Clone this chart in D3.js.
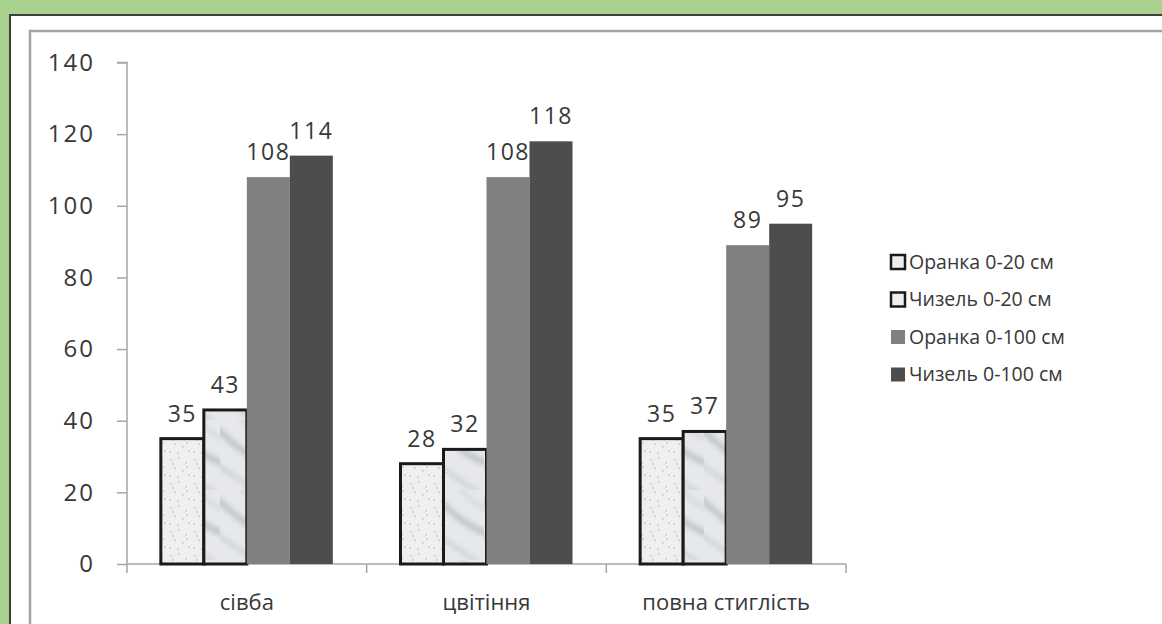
<!DOCTYPE html>
<html>
<head>
<meta charset="utf-8">
<script src="https://cdn.jsdelivr.net/npm/d3@7"></script>
<style>
  body { margin: 0; background: #a9d18e; }
  svg { display: block; }
  text { font-family: "Open Sans", sans-serif; fill: #383838; }
</style>
</head>
<body>
<div id="chart"></div>
<script>
// chart data
const stages = ["сівба", "цвітіння", "повна стиглість"];
const seriesNames = ["Оранка 0-20 см", "Чизель 0-20 см", "Оранка 0-100 см", "Чизель 0-100 см"];
const orankaTop = [35, 28, 35];
const chyzelTop = [43, 32, 37];
const orankaDeep = [108, 108, 89];
const chyzelDeep = [114, 118, 95];
const yTicks = [0, 20, 40, 60, 80, 100, 120, 140];

const seriesValues = [orankaTop, chyzelTop, orankaDeep, chyzelDeep];

const W = 1162, H = 624;
const margin = {t: 62.5, l: 127, plotR: 846, b: 564};

const svg = d3.select("#chart").append("svg")
    .attr("width", W).attr("height", H);

// patterns for the textured bars
const defs = svg.append("defs");
const speck = defs.append("pattern").attr("id", "speck")
    .attr("patternUnits", "userSpaceOnUse").attr("width", 24).attr("height", 24);
speck.append("rect").attr("width", 24).attr("height", 24).attr("fill", "#efefef");
[[3,4],[11,2],[18,7],[7,12],[15,15],[21,19],[2,20],[10,21],[19,11],[5,8]].forEach(p => {
    speck.append("circle").attr("cx", p[0]).attr("cy", p[1]).attr("r", 0.9).attr("fill", "#c8c8c8");
});
const blur = defs.append("filter").attr("id", "soft");
blur.append("feGaussianBlur").attr("stdDeviation", 2.5);
const marble = defs.append("pattern").attr("id", "marble")
    .attr("patternUnits", "userSpaceOnUse").attr("width", 44).attr("height", 70);
marble.append("rect").attr("width", 44).attr("height", 70).attr("fill", "#e6e8eb");
const mg = marble.append("g").attr("filter", "url(#soft)").attr("fill", "none");
mg.append("path").attr("d", "M-4,8 C10,20 22,34 48,44").attr("stroke", "#c0c4ca").attr("stroke-width", 6);
mg.append("path").attr("d", "M-4,44 C8,52 20,60 40,74").attr("stroke", "#cdd0d5").attr("stroke-width", 4);
mg.append("path").attr("d", "M20,-4 C26,6 34,14 48,20").attr("stroke", "#d0d3d8").attr("stroke-width", 3);

const fills = ["url(#speck)", "url(#marble)", "#808080", "#4d4d4d"];
const strokes = ["#1a1a1a", "#1a1a1a", "none", "none"];

// outer white panel with dark edge
svg.append("rect").attr("x", 10).attr("y", 15).attr("width", W).attr("height", H)
    .attr("fill", "#fff").attr("stroke", "#3f3f3f").attr("stroke-width", 2);
// inner gray frame
svg.append("rect").attr("x", 30).attr("y", 31).attr("width", W).attr("height", H)
    .attr("fill", "none").attr("stroke", "#a3a3a3").attr("stroke-width", 2.5);

// scales
const x = d3.scaleBand().domain(stages).range([margin.l, margin.plotR]);
const y = d3.scaleLinear().domain([0, 140]).range([margin.b, margin.t]);
const barW = 43;
const xs = d3.scaleBand().domain(d3.range(4)).range([0, barW * 4]);

// y axis
const yAxis = svg.append("g").attr("transform", `translate(${margin.l},0)`)
    .call(d3.axisLeft(y).tickValues(yTicks).tickSize(10).tickPadding(22));
yAxis.select(".domain").attr("stroke", "#a6a6a6").attr("stroke-width", 1.5).attr("d", `M-10,${y(140)}H0V${y(0)}`);
yAxis.selectAll(".tick line").attr("stroke", "#a6a6a6").attr("stroke-width", 1.5);
yAxis.selectAll(".tick text").attr("font-size", 24).attr("letter-spacing", 2)
    .attr("fill", "#383838").attr("font-family", "Open Sans");

// x axis
const xAxis = svg.append("g").attr("transform", `translate(0,${margin.b})`)
    .call(d3.axisBottom(x).tickSize(0).tickPadding(30));
xAxis.select(".domain").attr("stroke", "#a6a6a6").attr("stroke-width", 1.5)
    .attr("d", `M${margin.l},0H${margin.plotR}`);
xAxis.selectAll(".tick text").attr("font-size", 22).attr("fill", "#383838")
    .attr("font-family", "'Open Sans', sans-serif");
// tick marks at band edges
xAxis.selectAll(".edge").data(stages.concat(["end"])).enter().append("line")
    .attr("x1", (d, i) => i < stages.length ? x(d) : margin.plotR)
    .attr("x2", (d, i) => i < stages.length ? x(d) : margin.plotR)
    .attr("y1", 0).attr("y2", 9)
    .attr("stroke", "#a6a6a6").attr("stroke-width", 1.5);

// bars
const groupOffset = (x.bandwidth() - barW * 4) / 2;
seriesValues.forEach((vals, si) => {
    const g = svg.append("g");
    g.selectAll("rect").data(vals).enter().append("rect")
        .attr("x", (d, i) => x(stages[i]) + groupOffset + xs(si))
        .attr("y", d => y(d))
        .attr("width", barW)
        .attr("height", d => y(0) - y(d))
        .attr("fill", fills[si])
        .attr("stroke", strokes[si])
        .attr("stroke-width", 3);
    g.selectAll("text").data(vals).enter().append("text")
        .attr("x", (d, i) => x(stages[i]) + groupOffset + xs(si) + barW / 2)
        .attr("y", d => y(d) - 17)
        .attr("text-anchor", "middle")
        .attr("font-size", 23).attr("letter-spacing", 1.5)
        .text(d => d);
});

// legend
const leg = svg.append("g").attr("transform", "translate(891,262)");
const rows = leg.selectAll("g").data(seriesNames).enter().append("g")
    .attr("transform", (d, i) => `translate(0,${i * 37.5})`);
rows.append("rect").attr("x", 0).attr("y", -7).attr("width", 14).attr("height", 14)
    .attr("fill", (d, i) => i < 2 ? "#eeeeee" : fills[i])
    .attr("stroke", (d, i) => strokes[i]).attr("stroke-width", 2.5);
rows.append("text").attr("x", 18).attr("y", 0).attr("dy", "0.35em")
    .attr("font-size", 19.5).text(d => d);
</script>
</body>
</html>
